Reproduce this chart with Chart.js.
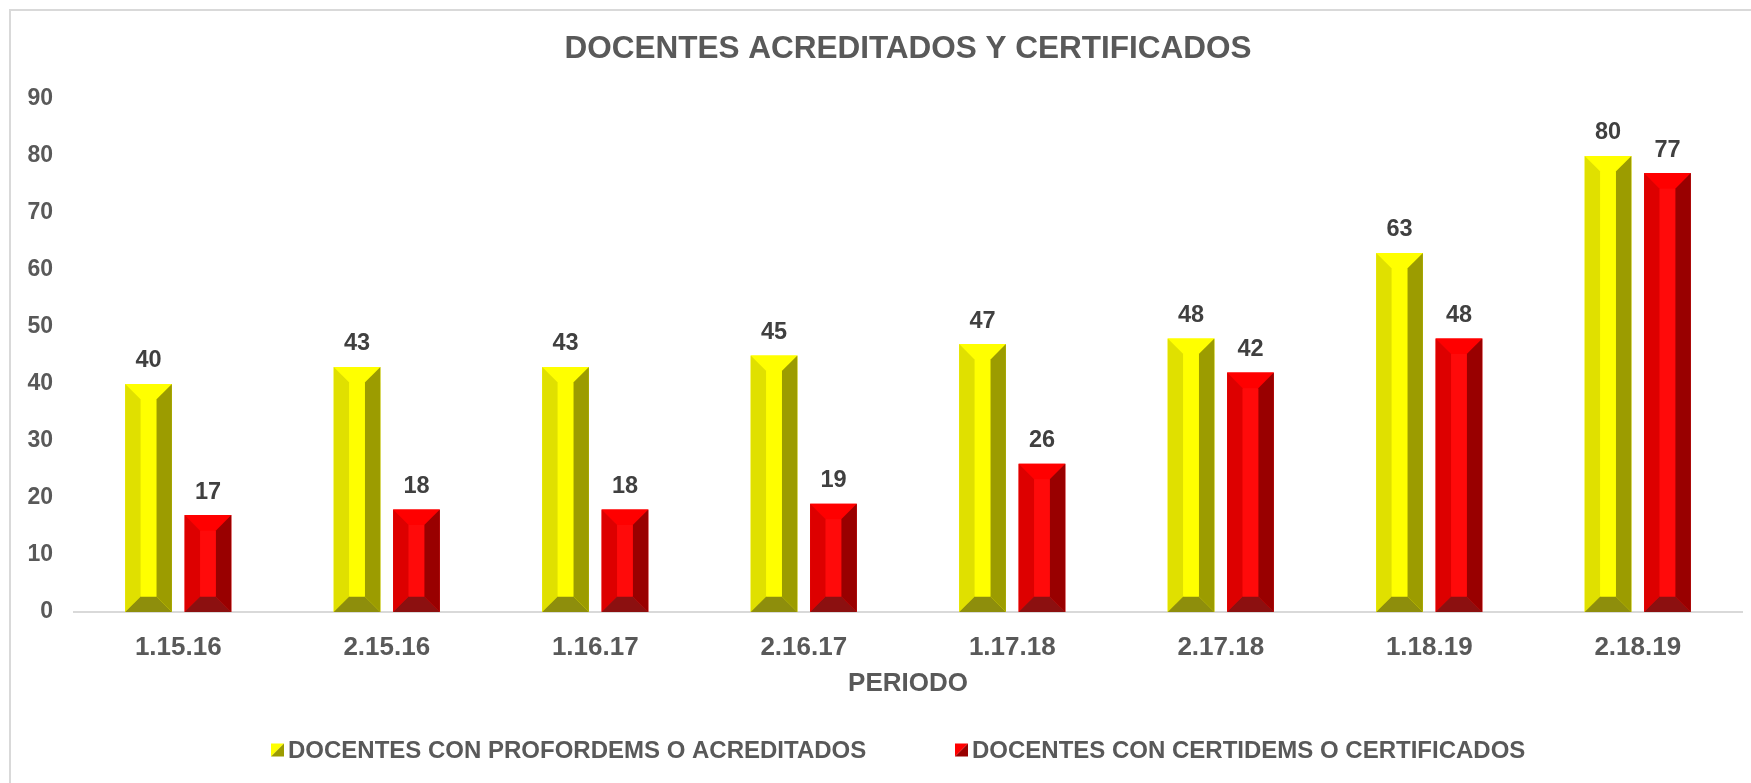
<!DOCTYPE html>
<html>
<head>
<meta charset="utf-8">
<script src="https://cdn.jsdelivr.net/npm/chart.js@4.4.1/dist/chart.umd.min.js"></script>
<style>
  html, body { margin: 0; padding: 0; background: #fff; overflow: hidden; }
  #wrap { position: relative; width: 1751px; height: 783px; }
  #frame { position: absolute; left: 9px; top: 9px; width: 1800px; height: 820px;
           border-left: 2px solid #d9d9d9; border-top: 2px solid #d9d9d9; }
  canvas { position: absolute; left: 0; top: 0; }
</style>
</head>
<body>
<div id="wrap">
  <div id="frame"></div>
  <canvas id="chart" width="1751" height="783"></canvas>
</div>
<script>
const periodos = ["1.15.16", "2.15.16", "1.16.17", "2.16.17", "1.17.18", "2.17.18", "1.18.19", "2.18.19"];
const acreditados = [40, 43, 43, 45, 47, 48, 63, 80];
const certificados = [17, 18, 18, 19, 26, 42, 48, 77];
const seriesNames = ["DOCENTES CON PROFORDEMS O ACREDITADOS", "DOCENTES CON CERTIDEMS O CERTIFICADOS"];

const FONT = "'Liberation Sans', Arial, sans-serif";

// bevel colours per series
const faces = [
    { face: '#ffff00', top: '#ffff00', left: '#e0e000', right: '#9c9c00', bottom: '#8e8e0c' },
    { face: '#ff0a0a', top: '#ff0000', left: '#dd0000', right: '#990000', bottom: '#8c1010' }
];

const poly = (ctx, color, pts) => {
    ctx.beginPath();
    ctx.moveTo(pts[0][0], pts[0][1]);
    for (let i = 1; i < pts.length; i++) ctx.lineTo(pts[i][0], pts[i][1]);
    ctx.closePath();
    ctx.fillStyle = color;
    ctx.fill();
};

const bevelBars = {
    id: 'bevelBars',
    afterDatasetsDraw(chart) {
        const ctx = chart.ctx;
        ctx.save();
        chart.data.datasets.forEach((ds, i) => {
            const c = faces[i];
            chart.getDatasetMeta(i).data.forEach((bar, j) => {
                const { x, y, base, width } = bar.getProps(['x', 'y', 'base', 'width'], true);
                const l = x - width / 2, r = x + width / 2, t = y, b = base;
                const d = Math.min(width / 3, (b - t) / 2);
                const il = l + d, ir = r - d, it = t + d, ib = b - d;
                poly(ctx, c.top, [[l, t], [r, t], [ir, it], [il, it]]);
                poly(ctx, c.left, [[l, t], [il, it], [il, ib], [l, b]]);
                poly(ctx, c.right, [[r, t], [r, b], [ir, ib], [ir, it]]);
                poly(ctx, c.bottom, [[l, b], [il, ib], [ir, ib], [r, b]]);
                poly(ctx, c.face, [[il, it], [ir, it], [ir, ib], [il, ib]]);

                // value label
                ctx.fillStyle = '#404040';
                ctx.font = 'bold 23.5px ' + FONT;
                ctx.textAlign = 'center';
                ctx.textBaseline = 'middle';
                ctx.fillText(ds.data[j], x, t - 23);
            });
        });
        ctx.restore();
    }
};

// title centred on plot area + legend with split squares
const decor = {
    id: 'decor',
    afterDraw(chart) {
        const ctx = chart.ctx;
        const area = chart.chartArea;
        ctx.save();
        ctx.fillStyle = '#595959';
        ctx.font = 'bold 31.5px ' + FONT;
        ctx.textAlign = 'center';
        ctx.textBaseline = 'middle';
        ctx.fillText('DOCENTES ACREDITADOS Y CERTIFICADOS', (area.left + area.right) / 2, 49);

        const startX = [271, 955];
        const cy = 750, s = 13;
        ctx.font = 'bold 24px ' + FONT;
        ctx.textAlign = 'left';
        seriesNames.forEach((name, i) => {
            const x0 = startX[i], y0 = cy - s / 2;
            poly(ctx, faces[i].top, [[x0, y0], [x0 + s, y0], [x0, y0 + s]]);
            poly(ctx, faces[i].right, [[x0 + s, y0], [x0 + s, y0 + s], [x0, y0 + s]]);
            ctx.fillStyle = '#595959';
            ctx.fillText(name, x0 + s + 4, cy + 1);
        });
        ctx.restore();
    }
};

new Chart(document.getElementById('chart'), {
    type: 'bar',
    data: {
        labels: periodos,
        datasets: [
            { label: seriesNames[0], data: acreditados, backgroundColor: faces[0].face },
            { label: seriesNames[1], data: certificados, backgroundColor: faces[1].face }
        ]
    },
    options: {
        responsive: false,
        animation: false,
        categoryPercentage: 0.57,
        barPercentage: 0.786,
        layout: { padding: { top: 99, left: 9, right: 9, bottom: 82 } },
        plugins: {
            legend: { display: false },
            title: { display: false },
            tooltip: { enabled: false }
        },
        scales: {
            x: {
                grid: { display: false },
                border: { display: true, color: '#d9d9d9', width: 2 },
                ticks: { color: '#595959', padding: 12, font: { family: FONT, size: 26, weight: 'bold' } },
                title: {
                    display: true, text: 'PERIODO', color: '#595959',
                    padding: { top: 0, bottom: 2 },
                    font: { family: FONT, size: 26, weight: 'bold' }
                },
                afterFit: (scale) => { scale.height = 89; }
            },
            y: {
                min: 0,
                max: 90,
                grid: { display: false },
                border: { display: false },
                ticks: { stepSize: 10, color: '#595959', padding: 13, font: { family: FONT, size: 23, weight: 'bold' } },
                afterFit: (scale) => { scale.width = 65; }
            }
        }
    },
    plugins: [bevelBars, decor]
});
</script>
</body>
</html>
